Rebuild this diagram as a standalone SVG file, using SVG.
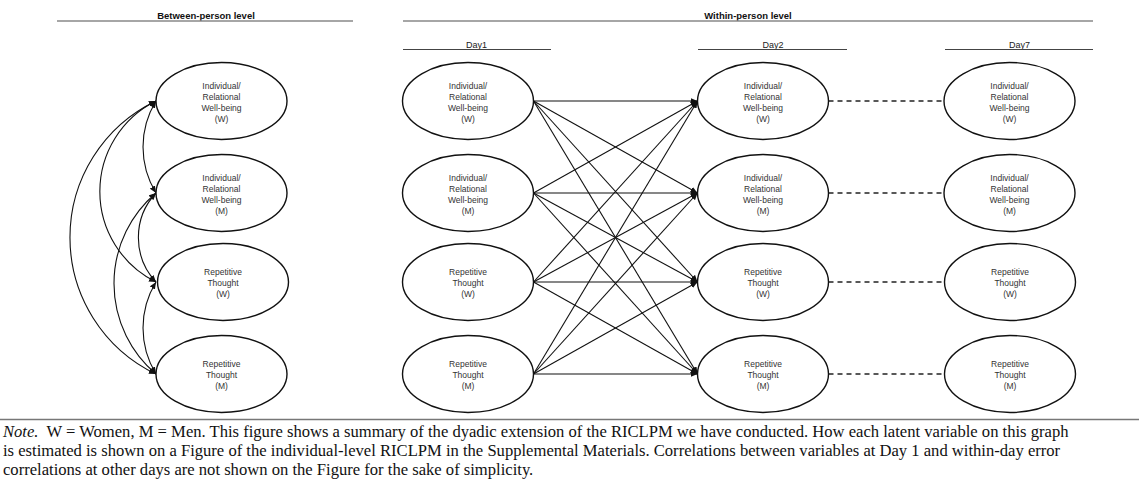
<svg xmlns="http://www.w3.org/2000/svg" width="1139" height="486" viewBox="0 0 1139 486">
<style>
.node ellipse{fill:#fff;stroke:#111;stroke-width:1.4}
.lbl{font-family:"Liberation Sans",Arial,sans-serif;font-size:8.5px;fill:#333;text-anchor:middle}
.hdr{font-family:"Liberation Sans",Arial,sans-serif;font-size:9.5px;fill:#111;text-anchor:middle;font-weight:bold}
.day{font-family:"Liberation Sans",Arial,sans-serif;font-size:9px;fill:#222;text-anchor:middle}
.hline{stroke:#888;stroke-width:1.5}
.dline{stroke:#444;stroke-width:1}
.arr{fill:none;stroke:#111;stroke-width:1.1;marker-end:url(#ah)}
.cov{fill:none;stroke:#111;stroke-width:1.1;marker-start:url(#ah);marker-end:url(#ah)}
.dash{fill:none;stroke:#222;stroke-width:1.3;stroke-dasharray:5 4}
.note{font-family:"Liberation Serif","Times New Roman",serif;font-size:16.6px;fill:#111}
</style>
<defs>
<marker id="ah" markerUnits="userSpaceOnUse" markerWidth="7" markerHeight="6" refX="7" refY="3" orient="auto-start-reverse">
<path d="M0,0 L7,3 L0,6 z" fill="#111"/>
</marker>
</defs>
<rect width="1139" height="486" fill="#fff"/>

<g id="headers">
<text class="hdr" x="206" y="18.5">Between-person level</text>
<line class="hline" x1="57" y1="21" x2="353" y2="21"/>
<text class="hdr" x="748" y="18.5">Within-person level</text>
<line class="hline" x1="403" y1="21" x2="1093" y2="21"/>
<text class="day" x="476.5" y="47.5">Day1</text>
<line class="dline" x1="403" y1="49.5" x2="551" y2="49.5"/>
<text class="day" x="773" y="47.5">Day2</text>
<line class="dline" x1="698" y1="49.5" x2="847" y2="49.5"/>
<text class="day" x="1019.5" y="47.5">Day7</text>
<line class="dline" x1="945" y1="49.5" x2="1093" y2="49.5"/>
</g>

<g id="connectors">
<path class="cov" d="M156,101 A88,88 0 0 0 156,193"/>
<path class="cov" d="M156,193 A65,65 0 0 0 156,282"/>
<path class="cov" d="M156,282 A88,88 0 0 0 156,374"/>
<path class="cov" d="M156,101 A101,101 0 0 0 156,282"/>
<path class="cov" d="M156,193 A118.5,118.5 0 0 0 156,374"/>
<path class="cov" d="M156,101 A151.3,151.3 0 0 0 156,374"/>

<line class="arr" x1="533.5" y1="101" x2="697.5" y2="101"/>
<line class="arr" x1="533.5" y1="101" x2="697.5" y2="193"/>
<line class="arr" x1="533.5" y1="101" x2="697.5" y2="282"/>
<line class="arr" x1="533.5" y1="101" x2="697.5" y2="374"/>
<line class="arr" x1="533.5" y1="193" x2="697.5" y2="101"/>
<line class="arr" x1="533.5" y1="193" x2="697.5" y2="193"/>
<line class="arr" x1="533.5" y1="193" x2="697.5" y2="282"/>
<line class="arr" x1="533.5" y1="193" x2="697.5" y2="374"/>
<line class="arr" x1="533.5" y1="282" x2="697.5" y2="101"/>
<line class="arr" x1="533.5" y1="282" x2="697.5" y2="193"/>
<line class="arr" x1="533.5" y1="282" x2="697.5" y2="282"/>
<line class="arr" x1="533.5" y1="282" x2="697.5" y2="374"/>
<line class="arr" x1="533.5" y1="374" x2="697.5" y2="101"/>
<line class="arr" x1="533.5" y1="374" x2="697.5" y2="193"/>
<line class="arr" x1="533.5" y1="374" x2="697.5" y2="282"/>
<line class="arr" x1="533.5" y1="374" x2="697.5" y2="374"/>

<line class="dash" x1="828.5" y1="101" x2="944" y2="101"/>
<line class="dash" x1="828.5" y1="193" x2="944" y2="193"/>
<line class="dash" x1="828.5" y1="282" x2="944" y2="282"/>
<line class="dash" x1="828.5" y1="374" x2="944" y2="374"/>
</g>

<g id="bp-wbw" class="node"><ellipse cx="221.5" cy="101" rx="65.5" ry="38.5"/>
<text class="lbl" x="221.5" y="89">Individual/</text><text class="lbl" x="221.5" y="100">Relational</text><text class="lbl" x="221.5" y="111">Well-being</text><text class="lbl" x="221.5" y="122">(W)</text></g>
<g id="bp-wbm" class="node"><ellipse cx="221.5" cy="193" rx="65.5" ry="38.5"/>
<text class="lbl" x="221.5" y="181">Individual/</text><text class="lbl" x="221.5" y="192">Relational</text><text class="lbl" x="221.5" y="203">Well-being</text><text class="lbl" x="221.5" y="214">(M)</text></g>
<g id="bp-rtw" class="node"><ellipse cx="223" cy="282" rx="65.5" ry="38.5"/>
<text class="lbl" x="223" y="275">Repetitive</text><text class="lbl" x="223" y="286">Thought</text><text class="lbl" x="223" y="297">(W)</text></g>
<g id="bp-rtm" class="node"><ellipse cx="221.5" cy="374" rx="65.5" ry="38.5"/>
<text class="lbl" x="221.5" y="367">Repetitive</text><text class="lbl" x="221.5" y="378">Thought</text><text class="lbl" x="221.5" y="389">(M)</text></g>

<g id="d1-wbw" class="node"><ellipse cx="468" cy="101" rx="65.5" ry="38.5"/>
<text class="lbl" x="468" y="89">Individual/</text><text class="lbl" x="468" y="100">Relational</text><text class="lbl" x="468" y="111">Well-being</text><text class="lbl" x="468" y="122">(W)</text></g>
<g id="d1-wbm" class="node"><ellipse cx="468" cy="193" rx="65.5" ry="38.5"/>
<text class="lbl" x="468" y="181">Individual/</text><text class="lbl" x="468" y="192">Relational</text><text class="lbl" x="468" y="203">Well-being</text><text class="lbl" x="468" y="214">(M)</text></g>
<g id="d1-rtw" class="node"><ellipse cx="468" cy="282" rx="65.5" ry="38.5"/>
<text class="lbl" x="468" y="275">Repetitive</text><text class="lbl" x="468" y="286">Thought</text><text class="lbl" x="468" y="297">(W)</text></g>
<g id="d1-rtm" class="node"><ellipse cx="468" cy="374" rx="65.5" ry="38.5"/>
<text class="lbl" x="468" y="367">Repetitive</text><text class="lbl" x="468" y="378">Thought</text><text class="lbl" x="468" y="389">(M)</text></g>

<g id="d2-wbw" class="node"><ellipse cx="763" cy="101" rx="65.5" ry="38.5"/>
<text class="lbl" x="763" y="89">Individual/</text><text class="lbl" x="763" y="100">Relational</text><text class="lbl" x="763" y="111">Well-being</text><text class="lbl" x="763" y="122">(W)</text></g>
<g id="d2-wbm" class="node"><ellipse cx="763" cy="193" rx="65.5" ry="38.5"/>
<text class="lbl" x="763" y="181">Individual/</text><text class="lbl" x="763" y="192">Relational</text><text class="lbl" x="763" y="203">Well-being</text><text class="lbl" x="763" y="214">(M)</text></g>
<g id="d2-rtw" class="node"><ellipse cx="763" cy="282" rx="65.5" ry="38.5"/>
<text class="lbl" x="763" y="275">Repetitive</text><text class="lbl" x="763" y="286">Thought</text><text class="lbl" x="763" y="297">(W)</text></g>
<g id="d2-rtm" class="node"><ellipse cx="763" cy="374" rx="65.5" ry="38.5"/>
<text class="lbl" x="763" y="367">Repetitive</text><text class="lbl" x="763" y="378">Thought</text><text class="lbl" x="763" y="389">(M)</text></g>

<g id="d7-wbw" class="node"><ellipse cx="1009.5" cy="101" rx="65.5" ry="38.5"/>
<text class="lbl" x="1009.5" y="89">Individual/</text><text class="lbl" x="1009.5" y="100">Relational</text><text class="lbl" x="1009.5" y="111">Well-being</text><text class="lbl" x="1009.5" y="122">(W)</text></g>
<g id="d7-wbm" class="node"><ellipse cx="1009.5" cy="193" rx="65.5" ry="38.5"/>
<text class="lbl" x="1009.5" y="181">Individual/</text><text class="lbl" x="1009.5" y="192">Relational</text><text class="lbl" x="1009.5" y="203">Well-being</text><text class="lbl" x="1009.5" y="214">(M)</text></g>
<g id="d7-rtw" class="node"><ellipse cx="1010" cy="282" rx="65.5" ry="38.5"/>
<text class="lbl" x="1010" y="275">Repetitive</text><text class="lbl" x="1010" y="286">Thought</text><text class="lbl" x="1010" y="297">(W)</text></g>
<g id="d7-rtm" class="node"><ellipse cx="1010" cy="374" rx="65.5" ry="38.5"/>
<text class="lbl" x="1010" y="367">Repetitive</text><text class="lbl" x="1010" y="378">Thought</text><text class="lbl" x="1010" y="389">(M)</text></g>

<g id="note">
<line x1="0" y1="419.5" x2="1139" y2="419.5" stroke="#777" stroke-width="1.5"/>
<text class="note" x="3" y="437"><tspan font-style="italic">Note.</tspan><tspan dx="8">W = Women, M = Men. This figure shows a summary of the dyadic extension of the RICLPM we have conducted. How each latent variable on this graph</tspan></text>
<text class="note" x="3" y="456">is estimated is shown on a Figure of the individual-level RICLPM in the Supplemental Materials. Correlations between variables at Day 1 and within-day error</text>
<text class="note" x="3" y="475">correlations at other days are not shown on the Figure for the sake of simplicity.</text>
</g>
</svg>
